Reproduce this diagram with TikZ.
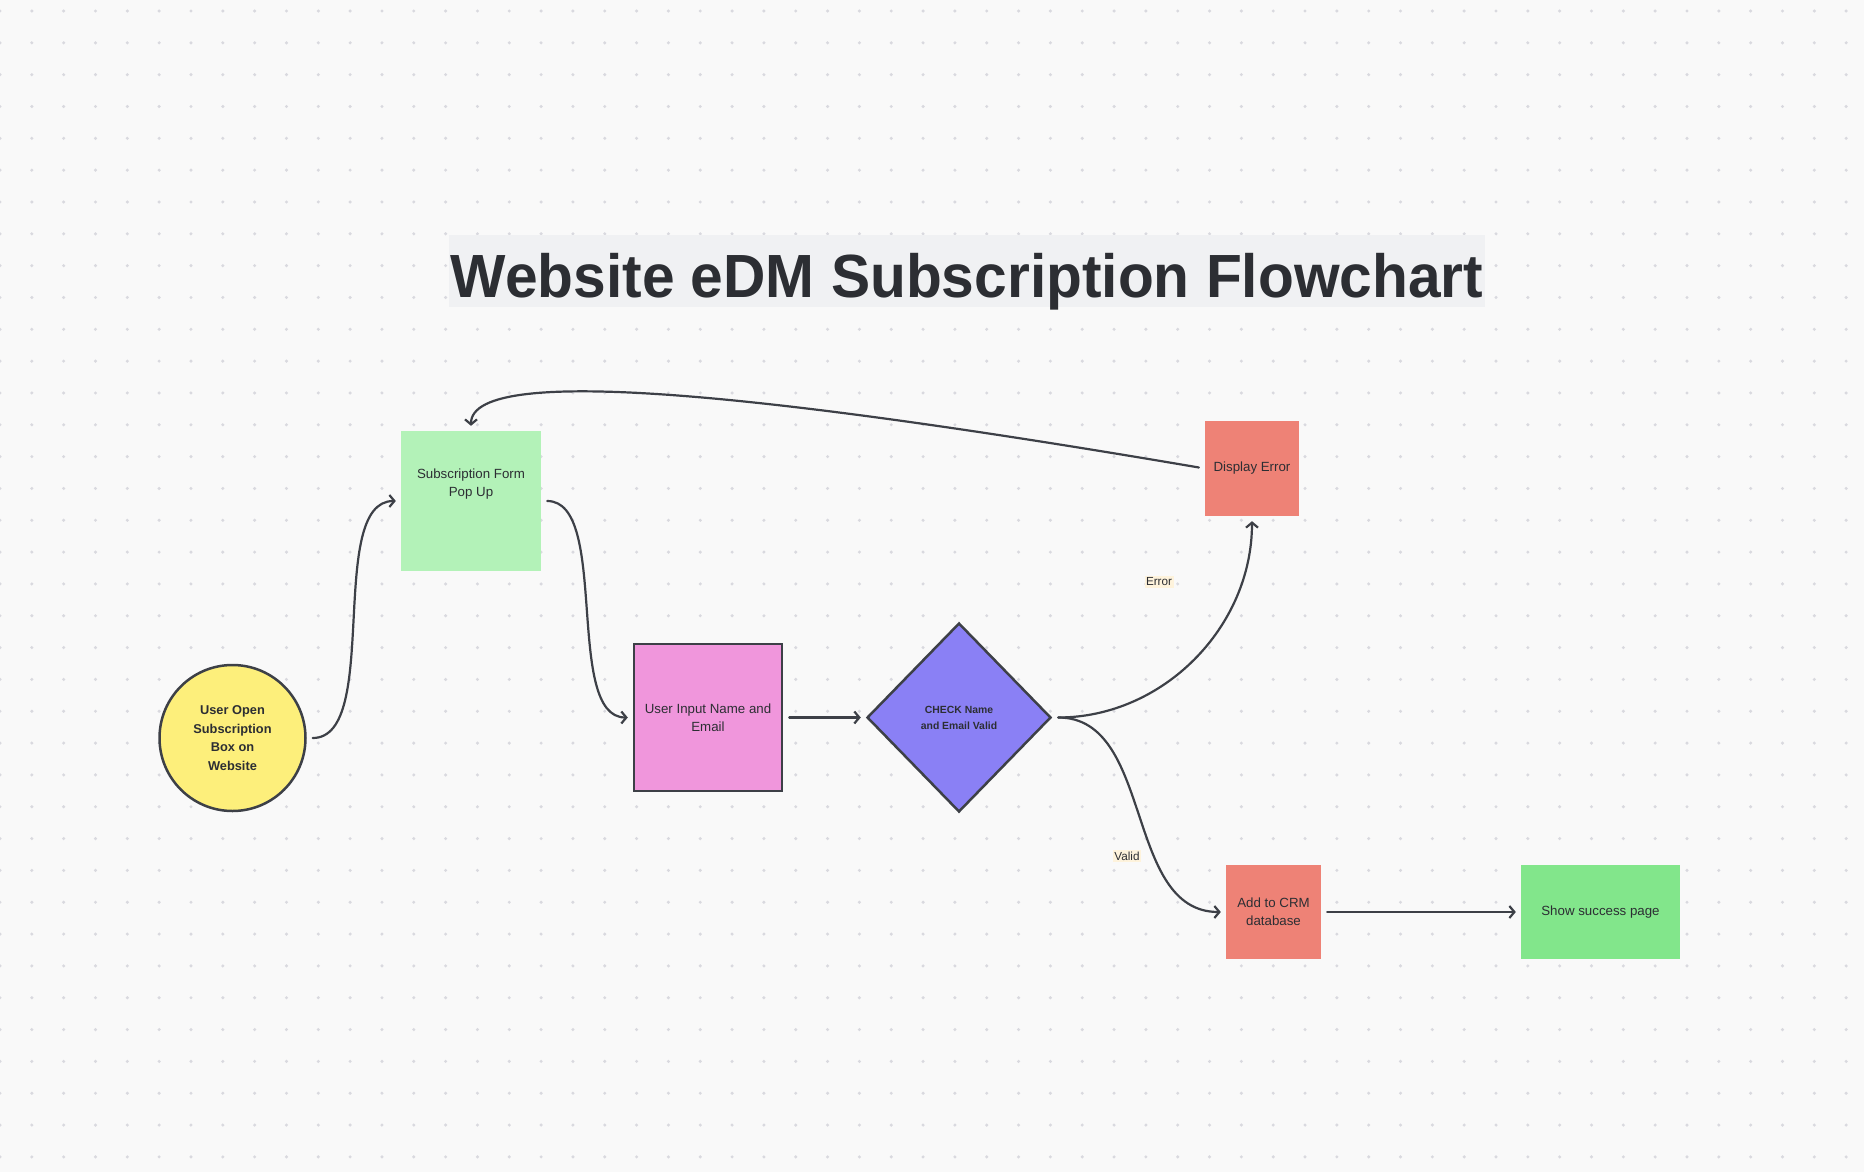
\documentclass[tikz,border=0pt]{standalone}
\usepackage{fontspec}
\setmainfont{Liberation Sans}
\usepackage{tikz}
\usetikzlibrary{arrows.meta,positioning,shapes.geometric}
\definecolor{bgpaper}{HTML}{F9F9F9}
\definecolor{dotgrey}{HTML}{D9D9DF}
\definecolor{titlebg}{HTML}{F0F1F3}
\definecolor{inkdark}{HTML}{2C2E33}
\definecolor{edgegrey}{HTML}{3D4047}
\definecolor{sunyellow}{HTML}{FDEF7B}
\definecolor{mintgreen}{HTML}{B3F2B8}
\definecolor{orchidpink}{HTML}{F096DC}
\definecolor{violetblue}{HTML}{8A80F5}
\definecolor{salmonred}{HTML}{EE8276}
\definecolor{leafgreen}{HTML}{82E68B}
\definecolor{labelcream}{HTML}{FEF3DC}
\tikzset{
  base/.style={font=\fontsize{13.3}{18}\selectfont, align=center, inner sep=3pt, text=inkdark},
  box/.style={base, rectangle, inner sep=0pt},
  outlined/.style={draw=edgegrey, line width=2.5pt},
  startc/.style={base, circle, outlined, fill=sunyellow, minimum size=146, inner sep=0pt, font=\fontsize{12.8}{18.7}\selectfont\bfseries},
  dec/.style={base, diamond, outlined, fill=violetblue, aspect=1, inner sep=0pt, font=\fontsize{10.4}{16}\selectfont\bfseries},
  arr/.style={-{Straight Barb[length=5pt,width=12pt,line width=2.2pt]}, line width=2.2pt, draw=edgegrey, line cap=round, shorten <=6pt, shorten >=5pt},
  lbl/.style={font=\fontsize{11.7}{14}\selectfont, text=inkdark, inner sep=1.5pt, fill=labelcream},
}

\begin{document}
\begin{tikzpicture}[x=1pt,y=-1pt]
  \useasboundingbox (0,0) rectangle (1864,1172);
  % paper and dot grid
  \fill[bgpaper] (0,0) rectangle (1864,1172);
  \foreach \i in {0,...,58}
    \foreach \j in {0,...,36}
      \fill[dotgrey] (\i*31.83, 11+\j*31.83) circle (1.7pt);
  % title
  \node[box,fill=titlebg,minimum width=1036,minimum height=72,text height=52pt,text depth=0pt,
        font=\fontsize{61}{61}\selectfont\bfseries] (title) at (967,271) {\scalebox{0.962}[1]{Website eDM Subscription Flowchart}};
  % steps
  \node[startc] (open) at (232.5,738) {User Open\\Subscription\\Box on\\Website};
  \node[box,fill=mintgreen,minimum width=140,minimum height=140,
        label={[base,yshift=17]center:{Subscription Form\\Pop Up}}] (form) at (471,501) {};
  \node[box,outlined,fill=orchidpink,minimum width=148,minimum height=147] (input) at (708,717.5) {User Input Name and\\Email};
  \node[dec,minimum width=184,minimum height=189] (check) at (959,717.5) {CHECK Name\\and Email Valid};
  \node[box,fill=salmonred,minimum width=94,minimum height=95] (err) at (1252,468.5) {Display Error};
  \node[box,fill=salmonred,minimum width=95,minimum height=94] (crm) at (1273.5,912) {Add to CRM\\database};
  \node[box,fill=leafgreen,minimum width=159,minimum height=94] (done) at (1600.5,912) {Show success page};
  % connectors
  \draw[arr] (open.east) to[out=0,in=180,looseness=0.75] (form.west);
  \draw[arr] (form.east) to[out=0,in=180,looseness=0.75] (input.west);
  \draw[arr] (input.east) -- (check.west);
  \draw[arr] (check.east) to[out=0,in=-90,looseness=1] (err.south);
  \draw[arr] (check.east) to[out=0,in=180,looseness=1] (crm.west);
  \draw[arr] (crm.east) -- (done.west);
  \draw[arr] (err.west) .. controls +(-405,-69) and +(0,-71) .. (form.north);
  % branch labels
  \node[lbl] (errlbl) at (1159,582) {Error};
  \node[lbl] (validlbl) at (1127,856) {Valid};
\end{tikzpicture}
\end{document}
